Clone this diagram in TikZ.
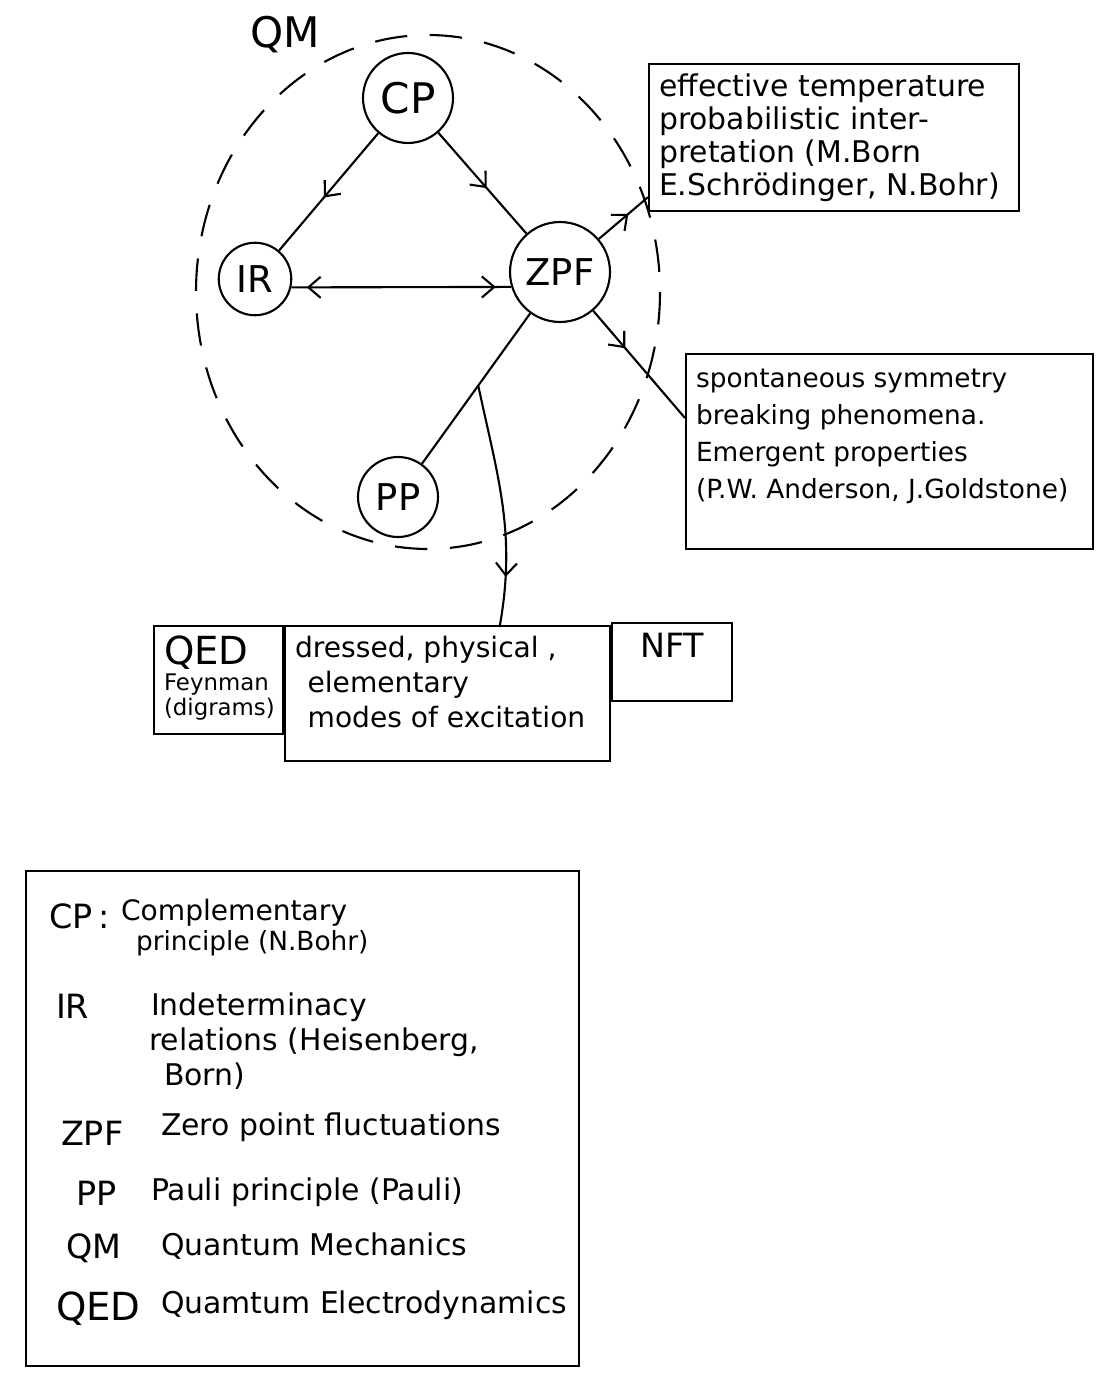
\documentclass[tikz,border=0pt]{standalone}
\usepackage{fontspec}
\setmainfont{DejaVu Sans}
\usetikzlibrary{arrows.meta,decorations.markings,calc,positioning}

\begin{document}
\begin{tikzpicture}[x=0.02cm,y=-0.02cm,line width=1.2pt,
  >={Straight Barb[length=7pt,width=12pt]},
  fwd/.style={postaction={decorate,decoration={markings,mark=at position #1 with {\arrow{>}}}}},
  bwd/.style={postaction={decorate,decoration={markings,mark=at position #1 with {\arrowreversed{>}}}}}]
  \tikzstyle{bubble}=[draw,circle,inner sep=0pt]
  \tikzstyle{box}=[draw,anchor=north west,inner sep=0.2cm]
  \tikzstyle{key}=[anchor=base west,inner sep=0pt,font=\fontsize{19}{22}\selectfont]
  \tikzstyle{desc}=[anchor=base west,inner sep=0pt,font=\fontsize{17}{20}\selectfont]

  \useasboundingbox (0,0) rectangle (1105,1378);

  \node[font=\fontsize{24}{28}\selectfont] (qm) at (285,35) {QM};
  \draw[dash pattern=on 0.65cm off 0.45cm] (428,292) ellipse [x radius=232,y radius=257];

  \node[bubble,minimum size=1.8cm,font=\fontsize{24}{28}\selectfont] (CP) at (408,98) {CP};
  \node[bubble,minimum size=1.45cm,font=\fontsize{21}{25}\selectfont] (IR) at (255,279) {IR};
  \node[bubble,minimum size=2cm,font=\fontsize{21}{25}\selectfont] (ZPF) at (560,272) {ZPF};
  \node[bubble,minimum size=1.6cm,font=\fontsize{21}{25}\selectfont] (PP) at (398,497) {PP};

  \node[box,font=\fontsize{17}{18.7}\selectfont] (temp) at (648,63)
    {\parbox[t][2.54cm][t]{7cm}{\raggedright effective temperature\\probabilistic inter-\\pretation (M.Born\\E.Schrödinger, N.Bohr)}};
  \node[box,inner ysep=0.3cm,font=\fontsize{15}{21}\selectfont] (sym) at (685,353)
    {\parbox[t][3.3cm][t]{7.74cm}{\raggedright spontaneous symmetry\\breaking phenomena.\\Emergent properties\\(P.W. Anderson, J.Goldstone)}};

  \node[box,font=\fontsize{13}{14.5}\selectfont] (qed) at (153,625)
    {\parbox[t][1.76cm][t]{2.18cm}{{\fontsize{22}{26}\selectfont QED}\\Feynman\\(digrams)}};
  \node[box,font=\fontsize{16}{20}\selectfont] (modes) at (qed.north east)
    {\parbox[t][2.3cm][t]{6.1cm}{\raggedright dressed, physical ,\\\hspace*{0.25cm}elementary\\\hspace*{0.25cm}modes of excitation}};
  \node[box,font=\fontsize{19}{22}\selectfont] (nft) at ([yshift=0.06cm]modes.north east)
    {\parbox[t][1.16cm][t]{2cm}{\centering NFT}};

  \draw[fwd=0.55] (CP) -- (IR);
  \draw[fwd=0.55] (CP) -- (ZPF);
  \draw[bwd=0.07,fwd=0.93] (IR.-13) -- (ZPF.197);
  \draw[fwd=0.6] (ZPF) -- ($(temp.south west)!0.1!(temp.north west)$);
  \draw[fwd=0.35] (ZPF) -- ($(sym.north west)!0.33!(sym.south west)$);
  \draw (ZPF) -- coordinate[pos=0.48] (fork) (PP);
  \draw[fwd=0.8] (fork) to[out=-78,in=80] ($(modes.north west)!0.66!(modes.north east)$);

  \node[box,minimum width=11.06cm,minimum height=9.9cm] (legend) at (25,870) {};
  \node[key] (cpkey) at (48,928) {CP\,:};
  \node[desc,font=\fontsize{16}{20}\selectfont] (cpdesc) at (120,920) {Complementary};
  \node[desc,font=\fontsize{15}{20}\selectfont] (cpdesc2) at (135,950) {principle (N.Bohr)};
  \node[key] (irkey) at (55,1018) {IR};
  \node[desc] (irdesc) at (150,1015) {Indeterminacy};
  \node[desc] (irdesc2) at (148,1050) {relations (Heisenberg,};
  \node[desc] (irdesc3) at (163,1085) {Born)};
  \node[key] (zpfkey) at (60,1145) {ZPF};
  \node[desc] (zpfdesc) at (160,1135) {Zero point fluctuations};
  \node[key] (ppkey) at (75,1205) {PP};
  \node[desc] (ppdesc) at (150,1200) {Pauli principle (Pauli)};
  \node[key] (qmkey) at (65,1258) {QM};
  \node[desc] (qmdesc) at (160,1255) {Quantum Mechanics};
  \node[key,font=\fontsize{22}{26}\selectfont] (qedkey) at (55,1320) {QED};
  \node[desc] (qeddesc) at (160,1313) {Quamtum Electrodynamics};
\end{tikzpicture}
\end{document}
